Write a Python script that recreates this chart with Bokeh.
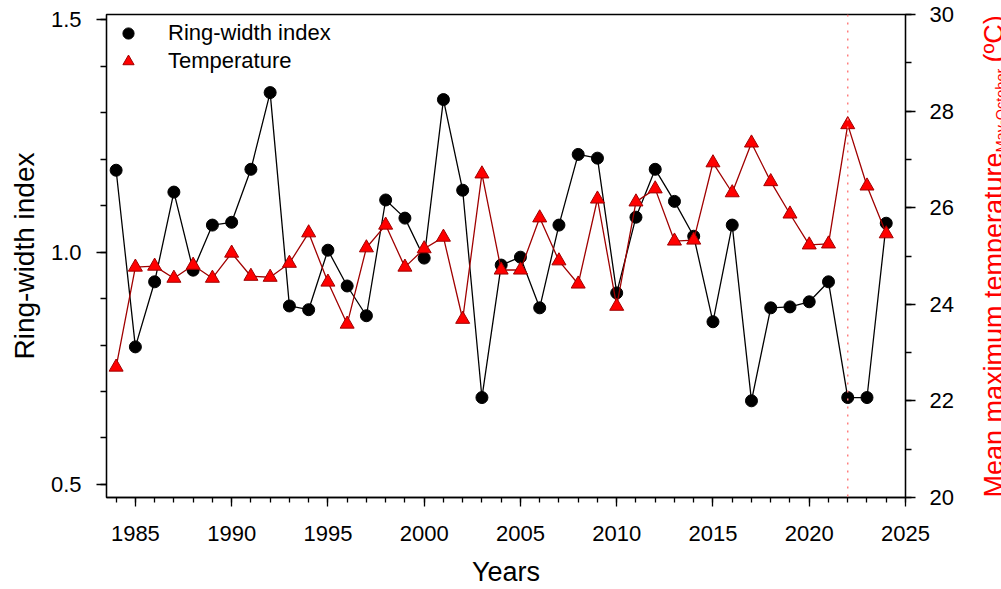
from math import pi

from bokeh.plotting import figure
from bokeh.layouts import row
from bokeh.models import (Range1d, LinearAxis, SingleIntervalTicker, PrintfTickFormatter,
                          Span, Label, Legend, LegendItem)
from bokeh.embed import file_html
from bokeh.resources import INLINE

# Annual series
years = list(range(1984, 2025))
ring_width = [1.176, 0.796, 0.936, 1.129, 0.961, 1.058, 1.064, 1.178, 1.343, 0.884,
              0.876, 1.004, 0.927, 0.863, 1.112, 1.073, 0.987, 1.328, 1.133, 0.687,
              0.972, 0.989, 0.880, 1.058, 1.210, 1.202, 0.912, 1.075, 1.178, 1.109,
              1.034, 0.850, 1.058, 0.680, 0.880, 0.882, 0.893, 0.936, 0.687, 0.687,
              1.062]
temperature = [22.70, 24.77, 24.79, 24.54, 24.81, 24.54, 25.06, 24.58, 24.56, 24.85,
               25.48, 24.46, 23.59, 25.17, 25.64, 24.77, 25.15, 25.39, 23.69, 26.70,
               24.71, 24.71, 25.79, 24.90, 24.42, 26.18, 23.96, 26.12, 26.39, 25.31,
               25.33, 26.93, 26.31, 27.34, 26.54, 25.87, 25.23, 25.25, 27.72, 26.45,
               25.46]
marked_year = 2022

FONT = "Liberation Sans"
TICK_SIZE = "22px"
RED = "#ff0000"

# main chart area; the strip on the far right carries the temperature title
p = figure(width=971, height=589, output_backend="svg", toolbar_location=None,
           x_range=Range1d(1983.5, 2025), y_range=Range1d(0.472, 1.511),
           min_border_left=106, min_border_right=66, min_border_top=14,
           min_border_bottom=92)
p.extra_y_ranges = {"temp": Range1d(20, 30)}

p.grid.visible = False
p.outline_line_color = "black"
p.outline_line_width = 1.3
p.background_fill_color = "white"
p.border_fill_color = "white"

# bottom axis
xa = p.xaxis[0]
xa.ticker = SingleIntervalTicker(interval=5, num_minor_ticks=5)
xa.axis_label = "Years"
xa.axis_label_text_font_size = "27px"
xa.major_tick_out = 9
xa.minor_tick_out = 5
xa.major_label_standoff = 19
xa.axis_label_standoff = 13

# left axis
ya = p.yaxis[0]
ya.ticker = SingleIntervalTicker(interval=0.5, num_minor_ticks=5)
ya.formatter = PrintfTickFormatter(format="%.1f")
ya.axis_label = "Ring-width index"
ya.axis_label_text_font_size = "28px"
ya.major_tick_out = 10
ya.minor_tick_out = 6
ya.major_label_standoff = 15
ya.axis_label_standoff = 8

# right axis (temperature)
ra = LinearAxis(y_range_name="temp",
                ticker=SingleIntervalTicker(interval=2, num_minor_ticks=2))
ra.major_tick_out = 10
ra.minor_tick_out = 6
ra.major_label_standoff = 14
p.add_layout(ra, "right")

for ax in (xa, ya, ra):
    ax.major_tick_in = 0
    ax.minor_tick_in = 0
    ax.axis_line_color = "black"
    ax.axis_line_width = 1.3
    ax.major_tick_line_width = 1.3
    ax.minor_tick_line_width = 1.3
    ax.major_label_text_font = FONT
    ax.major_label_text_font_size = TICK_SIZE
    ax.major_label_text_color = "black"
    ax.axis_label_text_font = FONT
    ax.axis_label_text_font_style = "normal"
    ax.axis_label_text_color = "black"

# vertical marker for the highlighted year
p.add_layout(Span(location=marked_year, dimension="height", line_color="#ff7f7f",
                  line_dash="2 6", line_width=1.5))

# ring-width series
p.line(years, ring_width, line_color="black", line_width=1.3)
rw_pts = p.scatter(years, ring_width, marker="circle", size=12,
                   fill_color="black", line_color="black")

# temperature series on the right scale
p.line(years, temperature, y_range_name="temp", line_color="#a00000", line_width=1.3)
t_pts = p.scatter(years, temperature, y_range_name="temp", marker="triangle", size=14,
                  fill_color="#ff0000", line_color="#a00000", line_width=1)

legend = Legend(items=[LegendItem(label="Ring-width index", renderers=[rw_pts]),
                       LegendItem(label="Temperature", renderers=[t_pts])],
                location="top_left", margin=0, padding=5, spacing=0,
                glyph_width=34, glyph_height=28, label_height=28, label_standoff=23,
                label_text_font=FONT, label_text_font_size="22px",
                label_text_color="black",
                background_fill_alpha=0, border_line_alpha=0)
p.add_layout(legend)

# narrow strip holding the rotated right-hand title with its subscript;
# its frame shares the vertical extent of the main plot frame
q = figure(width=30, height=589, output_backend="svg", toolbar_location=None,
           x_range=Range1d(0, 1), y_range=Range1d(0, 1),
           x_axis_type=None, y_axis_type=None, min_border=0)
q.grid.visible = False
q.outline_line_color = None
q.background_fill_color = "white"
q.border_fill_color = "white"

main_title = Label(x=22.5, y=0, x_units="screen", y_units="screen", angle=pi / 2,
                   text="Mean maximum temperature", text_font=FONT,
                   text_font_size="27px", text_color=RED,
                   text_align="left", text_baseline="alphabetic")
sub_title = Label(x=29, y=345, x_units="screen", y_units="screen", angle=pi / 2,
                  text="May-October", text_font=FONT, text_font_size="14.5px",
                  text_color=RED, text_align="left", text_baseline="alphabetic")
unit_title = Label(x=22.5, y=435, x_units="screen", y_units="screen", angle=pi / 2,
                   text="(ºC)", text_font=FONT, text_font_size="27px",
                   text_color=RED, text_align="left", text_baseline="alphabetic")
for lab in (main_title, sub_title, unit_title):
    q.add_layout(lab)

open("out.html", "w").write(file_html(row(p, q), INLINE))
